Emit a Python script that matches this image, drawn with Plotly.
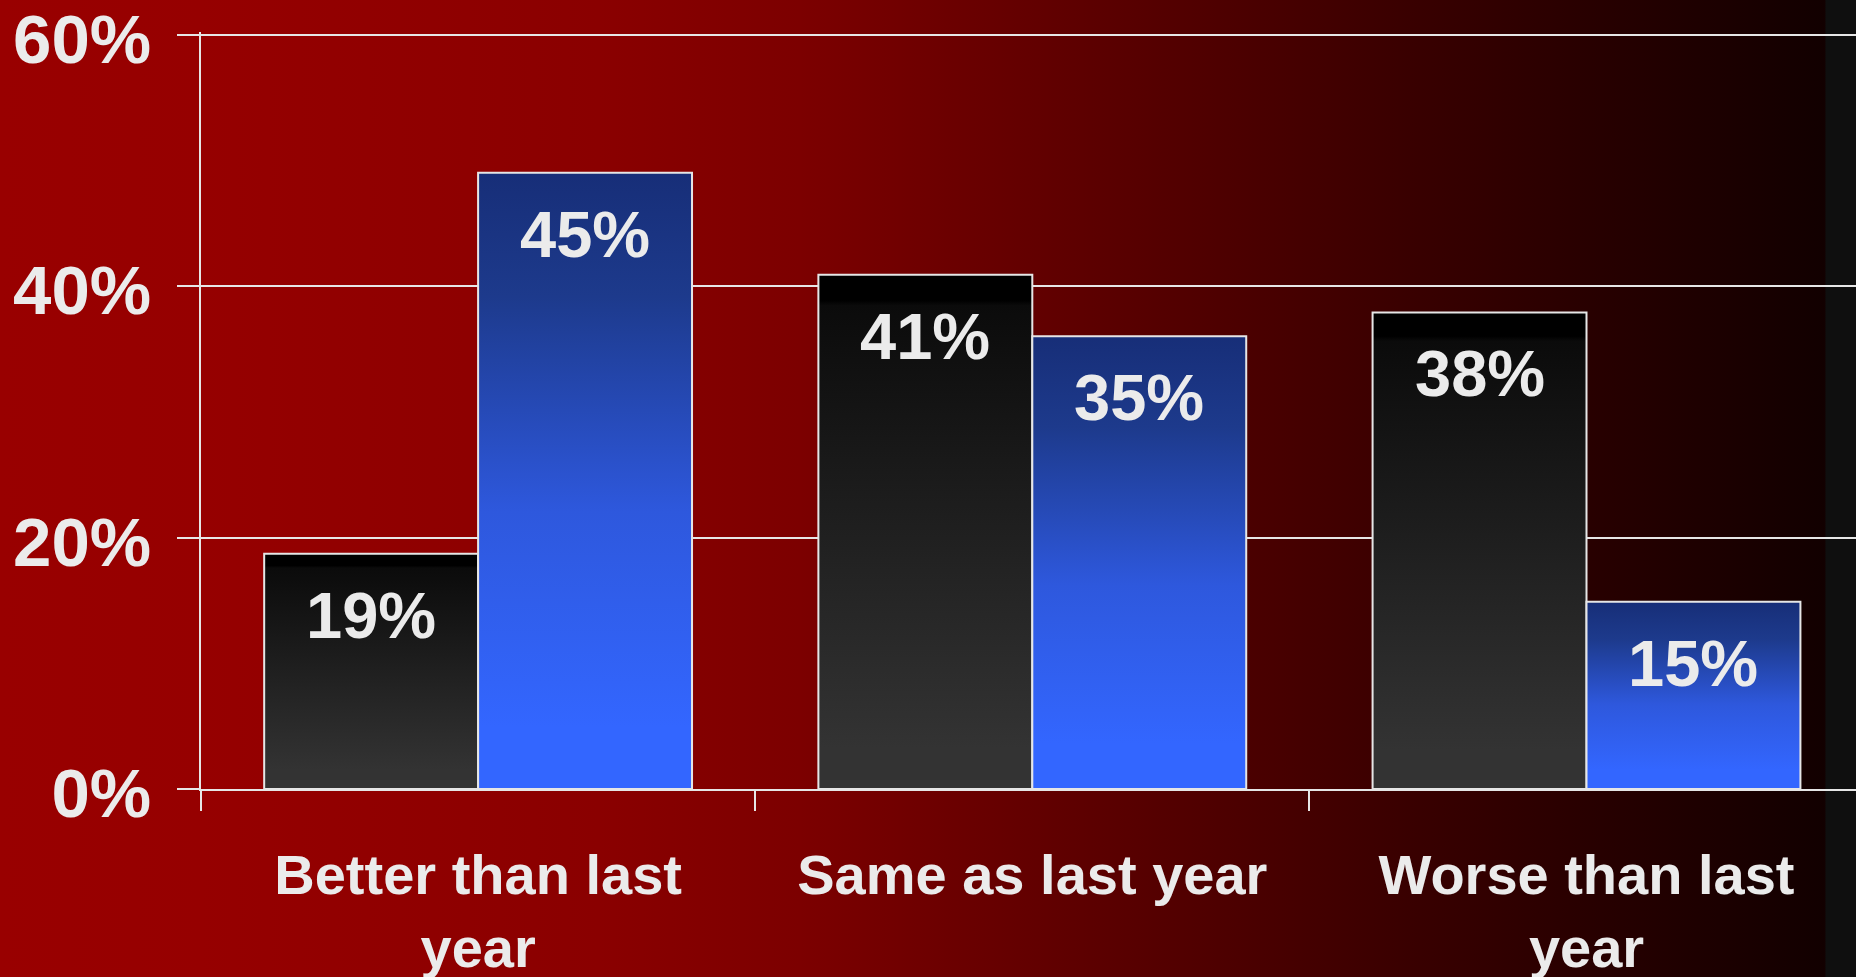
import base64
import plotly.graph_objects as go

# categories and the two series
categories = ["Better than last year", "Same as last year", "Worse than last year"]
tick_labels = ["Better than last<br>year", "Same as last year", "Worse than last<br>year"]

# bar heights as drawn (in %) and the labels printed inside them
black_values = [18.7, 40.9, 37.9]
black_labels = ["19%", "41%", "38%"]
blue_values = [49.0, 36.0, 14.9]
blue_labels = ["45%", "35%", "15%"]

y_tickvals = [0, 20, 40, 60]
y_ticktext = ["0%", "20%", "40%", "60%"]

# page geometry
W, H = 1856, 977
L, R, T, B = 201, 0, 32, 188
y_top = 60.2   # a hair above 60 so the top gridline is still drawn
cat_px = 554.2
bar_w = 0.386
FONT = "Liberation Sans"
TXT = "#ebebeb"
LINE = "#e6e6e6"

black_scale = [[0, "#333333"], [0.08, "#333333"], [0.94, "#0b0b0b"], [0.95, "#000000"], [1, "#000000"]]
blue_scale = [[0, "#3366ff"], [0.1, "#3366ff"], [0.45, "#2e58dd"], [0.8, "#1d3a8c"], [1, "#172e78"]]

# red-to-black background as an svg gradient
stops = [(0, "#990000"), (0.108, "#960000"), (0.323, "#8a0000"), (0.431, "#7c0000"),
         (0.539, "#660000"), (0.754, "#3a0000"), (0.983, "#120000"), (0.984, "#0f0f0f"), (1, "#0f0f0f")]
stop_xml = "".join(f'<stop offset="{o}" stop-color="{c}"/>' for o, c in stops)
svg = (f'<svg xmlns="http://www.w3.org/2000/svg" width="{W}" height="{H}" viewBox="0 0 {W} {H}" '
       f'preserveAspectRatio="none"><defs><linearGradient id="g" x1="0" y1="0" x2="1" y2="0">'
       f'{stop_xml}</linearGradient></defs><rect width="{W}" height="{H}" fill="url(#g)"/></svg>')
bg_src = "data:image/svg+xml;base64," + base64.b64encode(svg.encode()).decode()

fig = go.Figure()
annotations = []

for i, cat in enumerate(categories):
    for vals, labs, scale, off, name in [
        (black_values, black_labels, black_scale, -bar_w, "black"),
        (blue_values, blue_labels, blue_scale, 0.0, "blue"),
    ]:
        x0 = i + off
        x1 = x0 + bar_w
        v = vals[i]
        fig.add_trace(go.Scatter(
            x=[x0, x0, x1, x1, x0],
            y=[0, v, v, 0, 0],
            mode="lines",
            fill="toself",
            fillgradient=dict(type="vertical", colorscale=scale),
            line=dict(color=LINE, width=2),
            name=cat + " " + name,
            showlegend=False,
            hoverinfo="skip",
        ))
        annotations.append(dict(
            x=(x0 + x1) / 2, y=v, xref="x", yref="y",
            text=labs[i], showarrow=False, yanchor="top", yshift=-23,
            font=dict(family=FONT, size=65, color=TXT, weight="bold"),
        ))

x_end = -0.5 + (W - L - R) / cat_px
plot_h = H - T - B

fig.update_layout(
    width=W, height=H,
    margin=dict(l=L, r=R, t=T, b=B),
    paper_bgcolor="#990000",
    plot_bgcolor="rgba(0,0,0,0)",
    annotations=annotations,
    images=[dict(
        source=bg_src, xref="paper", yref="paper",
        x=-L / (W - L - R), y=1 + (T + 20) / plot_h,
        sizex=W / (W - L - R), sizey=(H + 40) / plot_h,
        xanchor="left", yanchor="top", sizing="stretch", layer="below",
    )],
    xaxis=dict(
        range=[-0.5, x_end], automargin=False,
        tickmode="array", tickvals=[0, 1, 2], ticktext=tick_labels,
        ticks="", showgrid=False, zeroline=False,
        showline=True, linecolor=LINE, linewidth=2,
        tickfont=dict(family=FONT, size=56, color=TXT, weight="bold"),
        ticklabelstandoff=36, ticklabeloverflow="allow",
        minor=dict(tickmode="array", tickvals=[-0.5, 0.5, 1.5], ticks="outside",
                   ticklen=20, tickwidth=2, tickcolor=LINE, showgrid=False),
    ),
    yaxis=dict(
        range=[0, y_top], automargin=False,
        tickmode="array", tickvals=y_tickvals, ticktext=y_ticktext,
        ticks="outside", ticklen=22, tickwidth=2, tickcolor=LINE,
        showgrid=True, gridcolor=LINE, gridwidth=2, zeroline=False,
        showline=True, linecolor=LINE, linewidth=2,
        tickfont=dict(family=FONT, size=69, color=TXT, weight="bold"),
        ticklabelstandoff=12, ticklabelshift=4, ticklabeloverflow="allow",
    ),
)

fig.write_html("out.html", config={"displayModeBar": False},
               post_script="document.body.style.margin='0';document.body.style.overflow='hidden';")
